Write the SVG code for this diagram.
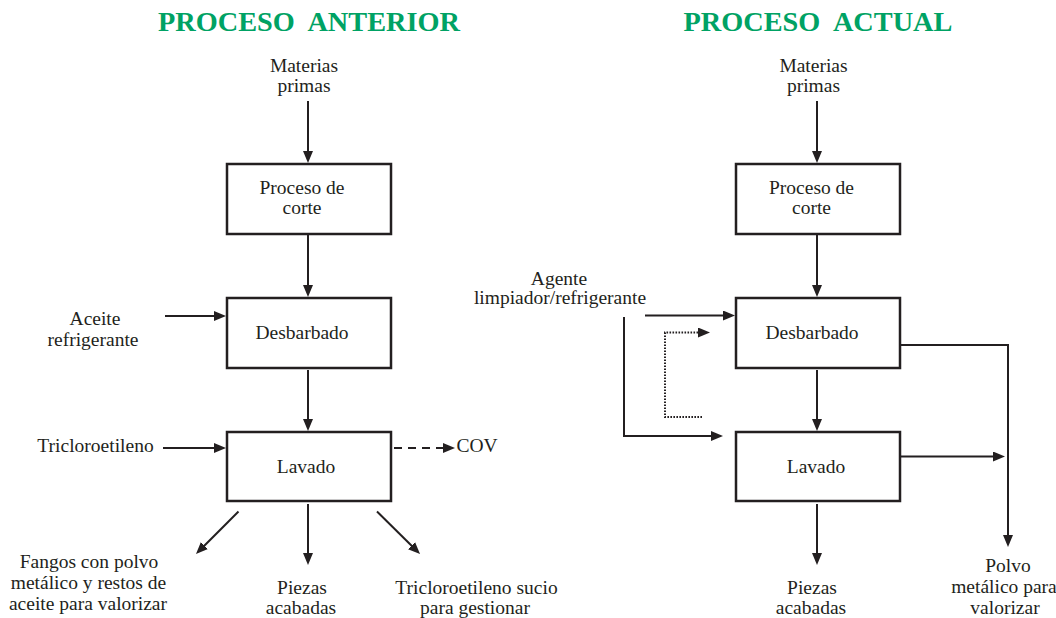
<svg xmlns="http://www.w3.org/2000/svg" width="1056" height="618" viewBox="0 0 1056 618">
<style>
text{font-family:"Liberation Serif","Times New Roman",serif;font-size:19.5px;fill:#231f20;text-anchor:middle}
.title{font-size:28.3px;font-weight:bold;fill:#00a264}
.box{fill:#fff;stroke:#231f20;stroke-width:2.5}
.ln{fill:none;stroke:#231f20;stroke-width:2;marker-end:url(#ah)}
.dash{stroke-dasharray:8 6}
.dot{stroke-dasharray:1.6 1.4}
</style>
<defs>
<marker id="ah" markerUnits="userSpaceOnUse" markerWidth="13" markerHeight="11" refX="8" refY="5" orient="auto">
<path d="M0,0 L12,5 L0,10 z" fill="#231f20"/>
</marker>
</defs>
<rect width="1056" height="618" fill="#fff"/>

<text class="title" x="309" y="31" xml:space="preserve">PROCESO  ANTERIOR</text>
<text class="title" x="818" y="31" xml:space="preserve">PROCESO  ACTUAL</text>

<g id="connectors">
<line class="ln" x1="308" y1="101" x2="308" y2="159"/>
<line class="ln" x1="308" y1="235" x2="308" y2="293"/>
<line class="ln" x1="308" y1="370" x2="308" y2="427"/>
<line class="ln" x1="165" y1="316" x2="222" y2="316"/>
<line class="ln" x1="163" y1="448" x2="222" y2="448"/>
<line class="ln dash" x1="394" y1="448" x2="451" y2="448"/>
<line class="ln" x1="238.5" y1="511.5" x2="198.8" y2="551.2"/>
<line class="ln" x1="308" y1="504" x2="308" y2="561"/>
<line class="ln" x1="377" y1="511.5" x2="417.2" y2="551.2"/>
<line class="ln" x1="817" y1="101" x2="817" y2="159"/>
<line class="ln" x1="817" y1="235" x2="817" y2="293"/>
<line class="ln" x1="817" y1="370" x2="817" y2="427"/>
<line class="ln" x1="817" y1="504" x2="817" y2="561"/>
<line class="ln" x1="645" y1="315.5" x2="731" y2="315.5"/>
<polyline class="ln" points="624,317 624,436 719,436"/>
<polyline class="ln dot" points="702,417 665,417 665,332.5 706,332.5"/>
<polyline class="ln" points="901,345 1008,345 1008,543"/>
<line class="ln" x1="901" y1="456.5" x2="1001" y2="456.5"/>
</g>

<g id="n-materias-l"><text x="304" y="72">Materias</text><text x="304" y="92">primas</text></g>
<g id="n-corte-l"><rect class="box" x="227" y="164" width="164" height="70"/><text x="302" y="194">Proceso de</text><text x="302" y="214">corte</text></g>
<g id="n-desbarbado-l"><rect class="box" x="227" y="298" width="164" height="70"/><text x="302" y="338.5">Desbarbado</text></g>
<g id="n-lavado-l"><rect class="box" x="227" y="432" width="164" height="69"/><text x="306" y="472.5">Lavado</text></g>
<g id="n-aceite"><text x="95" y="325">Aceite</text><text x="93" y="346">refrigerante</text></g>
<g id="n-tricloro"><text x="95.5" y="452">Tricloroetileno</text></g>
<g id="n-cov"><text x="477" y="452">COV</text></g>
<g id="n-fangos"><text x="89" y="568">Fangos con polvo</text><text x="88.5" y="589">metálico y restos de</text><text x="88" y="610">aceite para valorizar</text></g>
<g id="n-piezas-l"><text x="302" y="594">Piezas</text><text x="301" y="613.5">acabadas</text></g>
<g id="n-tricloro-sucio"><text x="476.5" y="594">Tricloroetileno sucio</text><text x="475" y="613.5">para gestionar</text></g>

<g id="n-materias-r"><text x="813.5" y="72">Materias</text><text x="813.5" y="92">primas</text></g>
<g id="n-corte-r"><rect class="box" x="736" y="164" width="164" height="70"/><text x="811.5" y="194">Proceso de</text><text x="811.5" y="214">corte</text></g>
<g id="n-desbarbado-r"><rect class="box" x="736" y="298" width="164" height="70"/><text x="812" y="338.5">Desbarbado</text></g>
<g id="n-lavado-r"><rect class="box" x="736" y="432" width="164" height="69"/><text x="816" y="472.5">Lavado</text></g>
<g id="n-agente"><text x="559" y="284.5">Agente</text><text x="560" y="303.5">limpiador/refrigerante</text></g>
<g id="n-piezas-r"><text x="812" y="594">Piezas</text><text x="811" y="613.5">acabadas</text></g>
<g id="n-polvo"><text x="1008" y="572">Polvo</text><text x="1004" y="593">metálico para</text><text x="1005" y="613.5">valorizar</text></g>
</svg>
